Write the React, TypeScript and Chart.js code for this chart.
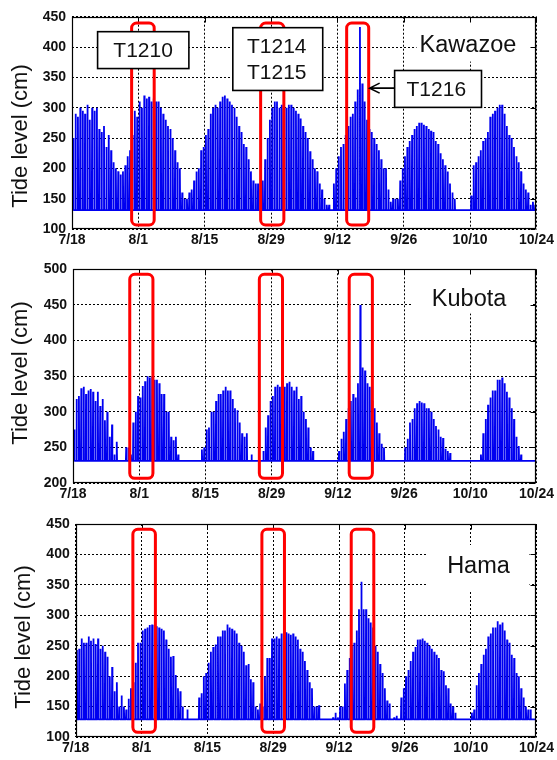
import React, { useEffect, useRef } from 'react';
import { Chart, registerables } from 'chart.js';

Chart.register(...registerables);

// ---------- axis ticks ----------
const tickDays = [0, 14, 28, 42, 56, 70, 84, 98];
const tickLabels = ['7/18', '8/1', '8/15', '8/29', '9/12', '9/26', '10/10', '10/24'];

// ---------- Kawazoe (two high tides per day, cm) ----------
const kawazoeBase = 131;
const kawazoeFirstHigh = [
  250, 285, 295, 305, 300, 300, 260, 235, 230, 200, 190, 205, 230, 295, 310, 320, 318, 315, 310, 290,
  270, 250, 210, 160, 150, 165, 195, 230, 255, 290, 305, 310, 320, 310, 300, 270, 240, 215, 180, 175,
  180, 250, 300, 310, 305, 300, 305, 295, 282, 260, 228, 200, 175, 150, 140, 175, 220, 240, 270, 290,
  330, 340, 280, 260, 240, 215, 200, 145, 150, 180, 220, 245, 265, 275, 272, 265, 260, 240, 215, 195,
  160, 131, 131, 131, 155, 210, 230, 250, 285, 295, 305, 290, 255, 235, 210, 175, 160, 145,
];
const kawazoeSecondHigh = [
  290, 300, 290, 280, 295, 265, 270, 255, 210, 195, 195, 220, 255, 285, 300, 315, 310, 310, 300, 280,
  265, 230, 200, 150, 160, 180, 200, 235, 265, 300, 300, 318, 315, 305, 285, 260, 235, 195, 175, 165,
  215, 280, 310, 300, 300, 305, 300, 290, 270, 250, 215, 195, 165, 140, 130, 200, 235, 255, 285, 310,
  433, 310, 265, 250, 230, 200, 165, 150, 150, 200, 235, 255, 270, 275, 270, 262, 245, 225, 205, 175,
  150, 131, 131, 131, 205, 220, 245, 260, 290, 300, 305, 270, 250, 220, 195, 165, 140, 140,
];

// ---------- Kubota ----------
const kubotaBase = 231;
const kubotaFirstHigh = [
  275, 322, 335, 330, 328, 328, 318, 300, 282, 258, 231, 250, 240, 300, 320, 343, 348, 345, 340, 325,
  300, 260, 240, 231, 231, 231, 231, 247, 275, 300, 315, 325, 335, 330, 305, 285, 265, 231, 231, 231,
  245, 295, 322, 338, 340, 340, 335, 335, 322, 290, 250, 231, 231, 231, 231, 231, 245, 272, 305, 325,
  340, 362, 340, 315, 285, 255, 231, 231, 231, 231, 250, 285, 305, 315, 312, 305, 290, 275, 263, 245,
  231, 231, 231, 231, 231, 231, 240, 290, 320, 330, 345, 340, 320, 290, 252, 231, 231, 231,
];
const kubotaSecondHigh = [
  318, 333, 325, 332, 315, 308, 288, 265, 240, 231, 231, 250, 285, 322, 336, 350, 350, 345, 325, 300,
  265, 265, 231, 231, 231, 231, 231, 250, 278, 300, 325, 330, 330, 318, 302, 270, 270, 240, 231, 231,
  278, 315, 335, 335, 335, 342, 330, 318, 300, 278, 245, 231, 231, 231, 231, 231, 262, 290, 315, 320,
  450, 358, 335, 305, 270, 250, 231, 231, 231, 231, 262, 290, 312, 313, 305, 300, 280, 265, 248, 242,
  231, 231, 231, 231, 231, 231, 270, 310, 330, 345, 348, 328, 305, 265, 240, 231, 231, 231,
];

// ---------- Hama ----------
const hamaBase = 129;
const hamaFirstHigh = [
  243, 262, 255, 258, 253, 245, 240, 200, 175, 150, 150, 163, 190, 255, 275, 280, 285, 282, 278, 260,
  232, 202, 175, 129, 129, 129, 165, 200, 222, 248, 265, 275, 285, 278, 270, 250, 218, 195, 150, 155,
  200, 230, 262, 262, 270, 270, 270, 260, 240, 210, 180, 150, 129, 129, 129, 140, 150, 188, 230, 255,
  310, 310, 295, 280, 240, 205, 160, 129, 135, 165, 200, 225, 248, 260, 258, 250, 240, 230, 208, 180,
  150, 129, 129, 129, 140, 185, 220, 245, 270, 280, 285, 275, 255, 230, 200, 165, 145, 129,
];
const hamaSecondHigh = [
  245, 255, 265, 262, 262, 250, 232, 215, 190, 168, 145, 180, 222, 255, 278, 284, 284, 280, 275, 245,
  233, 180, 150, 145, 129, 129, 172, 205, 240, 252, 265, 275, 280, 275, 255, 240, 220, 190, 145, 150,
  230, 262, 265, 270, 272, 268, 265, 245, 225, 190, 150, 152, 129, 129, 132, 132, 150, 210, 250, 275,
  355, 310, 288, 250, 220, 180, 155, 132, 129, 180, 210, 240, 260, 262, 255, 245, 235, 210, 185, 155,
  140, 129, 129, 129, 145, 205, 235, 265, 280, 290, 288, 260, 235, 205, 180, 150, 145, 129,
];

// ---------- styling ----------
const FONT = "'Liberation Sans', Arial, Helvetica, sans-serif";
const BLUE = '#0000f0';
const RED = '#ff0000';
const GRID = '#000000';
const HALF = 0.07; // half width (days) of one high-tide spike

type Label = { box: [number, number, number, number]; lines: { text: string; d: number; v: number }[] };
type Panel = {
  name: string;
  first: number[];
  second: number[];
  base: number;
  yMin: number;
  yMax: number;
  canvasTop: number;
  canvasHeight: number;
  plotLeft: number;
  plotRight: number;
  plotTop: number;
  plotBottom: number;
  titleX: number;
  titleCY: number;
  nameAt: [number, number];
  nameBg: [number, number, number, number];
  redBoxes: [number, number][];
  redY: [number, number];
  labels: Label[];
  arrow?: { from: [number, number]; to: [number, number] };
};

const panels: Panel[] = [
  {
    name: 'Kawazoe', first: kawazoeFirstHigh, second: kawazoeSecondHigh, base: kawazoeBase,
    yMin: 100, yMax: 450,
    canvasTop: 0, canvasHeight: 252, plotLeft: 72, plotRight: 537, plotTop: 16.7, plotBottom: 229,
    titleX: 21, titleCY: 136,
    nameAt: [73.34, 392.5], nameBg: [72.7, 97.2, 376, 450],
    redBoxes: [[12.58, 17.34], [39.8, 44.7], [57.95, 62.6]], redY: [106.6, 439.6],
    labels: [
      { box: [5.4, 24.66, 364.5, 425.3], lines: [{ text: 'T1210', d: 15.0, v: 383.1 }] },
      { box: [33.93, 52.9, 328.4, 431.9], lines: [{ text: 'T1214', d: 43.2, v: 390.8 }, { text: 'T1215', d: 43.2, v: 348.1 }] },
      { box: [68.07, 86.4, 300.5, 361.3], lines: [{ text: 'T1216', d: 76.86, v: 318.5 }] },
    ],
    arrow: { from: [68.07, 332.2], to: [62.8, 332.2] },
  },
  {
    name: 'Kubota', first: kubotaFirstHigh, second: kubotaSecondHigh, base: kubotaBase,
    yMin: 200, yMax: 500,
    canvasTop: 250, canvasHeight: 252, plotLeft: 73, plotRight: 538, plotTop: 269.3, plotBottom: 483,
    titleX: 21, titleCY: 373,
    nameAt: [75.87, 448.1], nameBg: [71.65, 96.9, 438, 500],
    redBoxes: [[12.0, 16.9], [39.4, 44.3], [58.4, 63.3]], redY: [206.6, 493],
    labels: [],
  },
  {
    name: 'Hama', first: hamaFirstHigh, second: hamaSecondHigh, base: hamaBase,
    yMin: 100, yMax: 450,
    canvasTop: 500, canvasHeight: 260, plotLeft: 75.7, plotRight: 540, plotTop: 524, plotBottom: 737,
    titleX: 24, titleCY: 637,
    nameAt: [79.0, 369.5], nameBg: [74.8, 96.5, 341.5, 415.5],
    redBoxes: [[12.16, 16.95], [39.6, 44.4], [58.6, 63.4]], redY: [107.7, 441.3],
    labels: [],
  },
];

function buildPoints(first: number[], second: number[], base: number) {
  const pts: { x: number; y: number }[] = [{ x: 0, y: base }];
  for (let d = 0; d < first.length; d++) {
    const highs: [number, number][] = [[first[d], d + 0.25], [second[d], d + 0.75]];
    for (const [v, t] of highs) {
      if (v > base + 0.5) {
        pts.push({ x: t - HALF, y: base }, { x: t, y: v }, { x: t + HALF, y: base });
      }
    }
  }
  pts.push({ x: 98, y: base });
  return pts;
}

function roundRectPath(ctx: CanvasRenderingContext2D, x: number, y: number, w: number, h: number, r: number) {
  ctx.beginPath();
  ctx.moveTo(x + r, y);
  ctx.lineTo(x + w - r, y);
  ctx.arcTo(x + w, y, x + w, y + r, r);
  ctx.lineTo(x + w, y + h - r);
  ctx.arcTo(x + w, y + h, x + w - r, y + h, r);
  ctx.lineTo(x + r, y + h);
  ctx.arcTo(x, y + h, x, y + h - r, r);
  ctx.lineTo(x, y + r);
  ctx.arcTo(x, y, x + r, y, r);
  ctx.closePath();
}

function annotationPlugin(p: Panel) {
  return {
    id: 'annot_' + p.name,
    beforeDatasetsDraw(chart: any) {
      const { ctx, scales } = chart;
      const x = scales.x, y = scales.y;
      const [d0, d1, v0, v1] = p.nameBg;
      const X0 = x.getPixelForValue(d0), X1 = x.getPixelForValue(d1);
      const Y0 = y.getPixelForValue(v1), Y1 = y.getPixelForValue(v0);
      ctx.save();
      ctx.fillStyle = '#ffffff';
      ctx.fillRect(X0, Y0, X1 - X0, Y1 - Y0);
      ctx.restore();
    },
    afterDatasetsDraw(chart: any) {
      const { ctx, chartArea, scales } = chart;
      const x = scales.x, y = scales.y;
      ctx.save();
      // frame
      const L = Math.round(chartArea.left) + 0.5, R = Math.round(chartArea.right) - 0.5;
      const T = Math.round(chartArea.top) + 0.5, B = Math.round(chartArea.bottom) - 0.5;
      ctx.strokeStyle = '#000';
      ctx.lineWidth = 1.2;
      ctx.setLineDash([]);
      ctx.strokeRect(L, T, R - L, B - T);
      // inner ticks on right and top
      ctx.lineWidth = 1;
      ctx.beginPath();
      for (let v = p.yMin; v <= p.yMax; v += 50) {
        const py = Math.round(y.getPixelForValue(v)) + 0.5;
        ctx.moveTo(R, py);
        ctx.lineTo(R - 5, py);
      }
      for (const d of tickDays) {
        const px = Math.round(x.getPixelForValue(d)) + 0.5;
        ctx.moveTo(px, T);
        ctx.lineTo(px, T + 5);
      }
      ctx.stroke();

      // red boxes
      ctx.strokeStyle = RED;
      ctx.lineWidth = 3;
      for (const [d0, d1] of p.redBoxes) {
        const X0 = x.getPixelForValue(d0), X1 = x.getPixelForValue(d1);
        const Y0 = y.getPixelForValue(p.redY[1]), Y1 = y.getPixelForValue(p.redY[0]);
        roundRectPath(ctx, X0, Y0, X1 - X0, Y1 - Y0, 5);
        ctx.stroke();
      }

      // label boxes
      for (const lab of p.labels) {
        const [d0, d1, v0, v1] = lab.box;
        const X0 = x.getPixelForValue(d0), X1 = x.getPixelForValue(d1);
        const Y0 = y.getPixelForValue(v1), Y1 = y.getPixelForValue(v0);
        ctx.fillStyle = '#fff';
        ctx.fillRect(X0, Y0, X1 - X0, Y1 - Y0);
        ctx.strokeStyle = '#000';
        ctx.lineWidth = 1.6;
        ctx.strokeRect(X0, Y0, X1 - X0, Y1 - Y0);
        ctx.fillStyle = '#111';
        ctx.font = `21px ${FONT}`;
        ctx.textAlign = 'center';
        ctx.textBaseline = 'alphabetic';
        for (const ln of lab.lines) {
          ctx.fillText(ln.text, x.getPixelForValue(ln.d), y.getPixelForValue(ln.v));
        }
      }

      // arrow
      if (p.arrow) {
        const fx = x.getPixelForValue(p.arrow.from[0]), fy = y.getPixelForValue(p.arrow.from[1]);
        const tx = x.getPixelForValue(p.arrow.to[0]), ty = y.getPixelForValue(p.arrow.to[1]);
        ctx.strokeStyle = '#000';
        ctx.lineWidth = 1.6;
        ctx.beginPath();
        ctx.moveTo(fx, fy);
        ctx.lineTo(tx, ty);
        ctx.moveTo(tx + 10, ty - 5);
        ctx.lineTo(tx, ty);
        ctx.lineTo(tx + 10, ty + 5);
        ctx.stroke();
      }

      // station name
      ctx.fillStyle = '#111';
      ctx.font = `23.5px ${FONT}`;
      ctx.textAlign = 'left';
      ctx.textBaseline = 'alphabetic';
      ctx.fillText(p.name, x.getPixelForValue(p.nameAt[0]), y.getPixelForValue(p.nameAt[1]));
      ctx.restore();
    },
    afterDraw(chart: any) {
      const { ctx } = chart;
      ctx.save();
      ctx.translate(p.titleX, p.titleCY - p.canvasTop);
      ctx.rotate(-Math.PI / 2);
      ctx.fillStyle = '#111';
      ctx.font = `22px ${FONT}`;
      ctx.textAlign = 'center';
      ctx.textBaseline = 'middle';
      ctx.fillText('Tide level (cm)', 0, 0);
      ctx.restore();
    },
  };
}

function PanelChart({ p }: { p: Panel }) {
  const ref = useRef<HTMLCanvasElement>(null);
  useEffect(() => {
    const canvas = ref.current;
    if (!canvas) return;
    const tickFont = { family: FONT, size: 14, weight: 'bold' as const };
    const chart = new Chart(canvas, {
      type: 'line',
      data: {
        datasets: [
          {
            data: buildPoints(p.first, p.second, p.base),
            borderColor: BLUE,
            borderWidth: 1.8,
            borderJoinStyle: 'bevel',
            pointRadius: 0,
            pointHoverRadius: 0,
            tension: 0,
            fill: false,
          } as any,
        ],
      },
      options: {
        animation: false,
        responsive: false,
        maintainAspectRatio: false,
        events: [],
        layout: { padding: { left: 0, right: 557 - p.plotRight, top: p.plotTop - p.canvasTop, bottom: 0 } },
        plugins: { legend: { display: false }, tooltip: { enabled: false }, title: { display: false } },
        scales: {
          x: {
            type: 'linear',
            min: 0,
            max: 98,
            afterBuildTicks: (s: any) => {
              s.ticks = tickDays.map((v) => ({ value: v }));
            },
            afterFit: (s: any) => {
              s.height = p.canvasTop + p.canvasHeight - p.plotBottom;
            },
            ticks: {
              autoSkip: false,
              maxRotation: 0,
              padding: 3,
              color: '#111',
              font: tickFont,
              callback: (v: any) => {
                const i = tickDays.indexOf(Number(v));
                return i >= 0 ? tickLabels[i] : '';
              },
            },
            grid: { color: GRID, lineWidth: 1, drawTicks: false },
            border: { display: false, dash: [2, 2] },
          },
          y: {
            type: 'linear',
            min: p.yMin,
            max: p.yMax,
            afterFit: (s: any) => {
              s.width = p.plotLeft;
            },
            ticks: { stepSize: 50, padding: 6, color: '#111', font: tickFont },
            grid: { color: GRID, lineWidth: 1, drawTicks: false },
            border: { display: false, dash: [2, 2] },
          },
        },
      } as any,
      plugins: [annotationPlugin(p) as any],
    });
    return () => chart.destroy();
  }, [p]);
  return (
    <canvas
      ref={ref}
      width={557}
      height={p.canvasHeight}
      style={{ position: 'absolute', left: 0, top: p.canvasTop, width: 557, height: p.canvasHeight }}
    />
  );
}

export default function App() {
  return (
    <div style={{ position: 'absolute', left: 0, top: 0, width: 557, height: 760, background: '#fff' }}>
      {panels.map((p) => (
        <PanelChart key={p.name} p={p} />
      ))}
    </div>
  );
}
